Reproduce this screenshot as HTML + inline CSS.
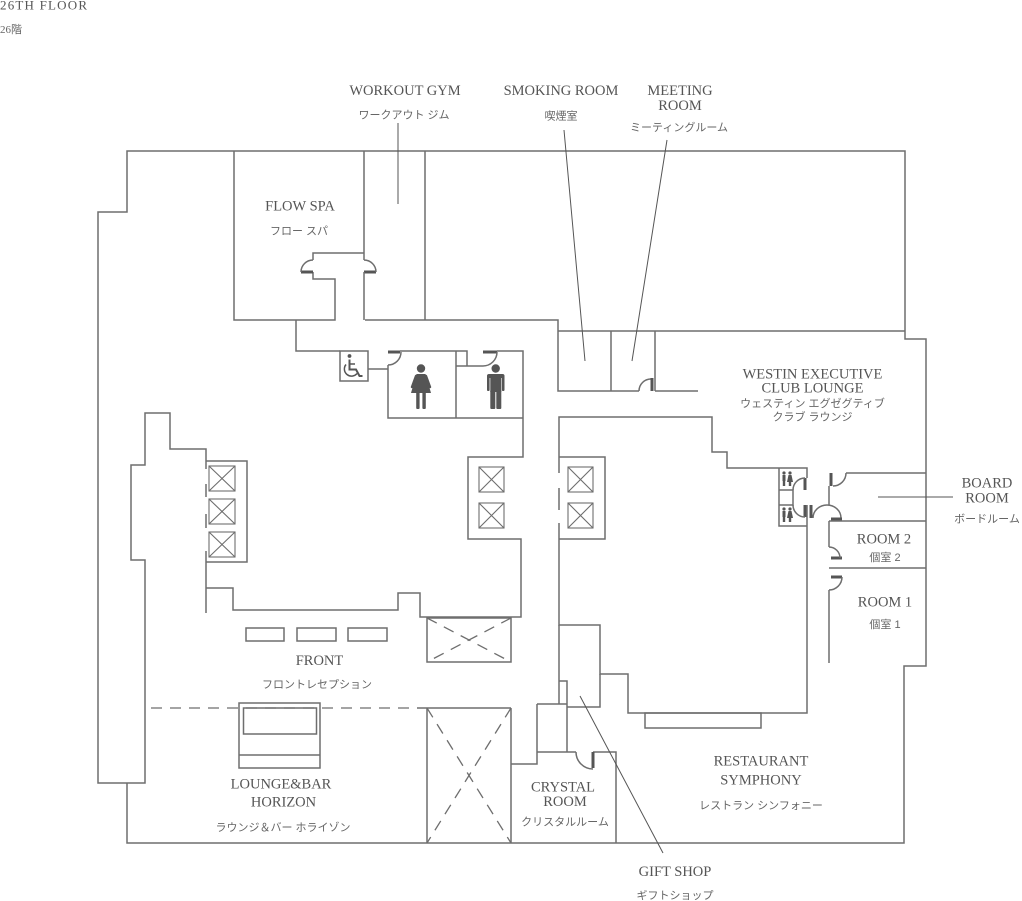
<!DOCTYPE html>
<html><head><meta charset="utf-8">
<style>
html,body{margin:0;padding:0;background:#fff;}
svg{display:block;}
.w{fill:none;stroke:#6e6e6e;stroke-width:1.5;}
.t{fill:none;stroke:#555;stroke-width:3;}
.l{fill:none;stroke:#555;stroke-width:1;}
.d{fill:none;stroke:#6e6e6e;stroke-width:1.3;stroke-dasharray:11 8;}
.x{fill:none;stroke:#6e6e6e;stroke-width:1.1;}
.s{font-family:"Liberation Serif",serif;font-size:14.5px;fill:#555;text-anchor:middle;}
.j{font-family:"Liberation Sans","Noto Sans CJK JP",sans-serif;font-size:11px;fill:#666;text-anchor:middle;}
.ic{fill:#555;}
</style></head><body>
<svg width="1022" height="901" viewBox="0 0 1022 901">
<!-- outer wall -->
<path class="w" d="M127,783 V843 H904 V666 H926 V339 H905 V151 H127 V212 H98 V783 H145 V560 H131 V465 H145 V413 H170 V449 H206 V461"/>
<!-- left elevator bank -->
<path class="w" d="M206,461 H247 V562 H206"/>
<path class="w" d="M206,461 V469 M206,484 V497 M206,514 V528 M206,551 V613"/>
<path class="w" d="M206,588 H233 V610 H398 V593 H420 V617 H521 V539 H468 V457 H523 V351 H497"/>
<!-- restrooms -->
<path class="t" d="M483,352 H497"/>
<path class="w" d="M497,352 A14,14 0 0 1 483,366"/>
<path class="w" d="M483,366 H456 M467,366 V351 H400"/>
<path class="t" d="M388,352 H400"/>
<path class="w" d="M401,352 A13,13 0 0 1 388,365"/>
<path class="w" d="M388,365 V418 H523 M456,351 V418"/>
<path class="w" d="M368,369 H388"/>
<rect class="w" x="340" y="351" width="28" height="30"/>
<path class="w" d="M296,320 V351 H340"/>
<!-- corridor top / smoking / meeting -->
<path class="w" d="M365,320 H558 V391 H639 M655,391 H698 M611,331 V391 M655,331 V391 M558,331 H905"/>
<path class="w" d="M639,391 A12,12 0 0 1 651,379"/>
<path class="t" d="M652,378 V391"/>
<!-- spa / gym -->
<path class="w" d="M234,151 V320 H335 V279 H313 V272"/>
<path class="t" d="M301,272 H313 M364,272 H376"/>
<path class="w" d="M301,272 A12,12 0 0 1 313,260 M313,260 V253 H364 M364,151 V260 M364,260 A12,12 0 0 1 376,272 M364,272 V320 M425,151 V320"/>
<!-- club inner block -->
<path class="w" d="M559,457 V417 H712 V452 H727 V468 H807 V478 M779,468 V526 H807"/>
<path class="t" d="M805,478 V490 M805,505 V517 M811,505 V518"/>
<path class="w" d="M807,505 V713 H628 V674 H600 V625 H559 V539"/>
<path class="w" d="M779,490 H793 V505 H779"/>
<path class="w" d="M793,490 A12,12 0 0 1 805,478 M793,505 A12,12 0 0 0 805,517"/>
<!-- corridor door -->
<path class="w" d="M813,518 A14,13 0 0 1 841,518"/>
<path class="t" d="M831,519 H842"/>
<!-- right rooms -->
<path class="t" d="M831,473 V486 M831,558 H842 M831,577 H842"/>
<path class="w" d="M833,486 A13,13 0 0 0 846,473 M846,473 H926"/>
<path class="w" d="M829,486 V505 M829,521 H926 M829,521 V547 M829,568 H926"/>
<path class="w" d="M829,547 A11,11 0 0 1 840,558 M842,577 A13,13 0 0 1 829,590 M829,590 V663"/>
<path class="l" d="M878,497 H953"/>
<!-- right elevator bank -->
<path class="w" d="M559,457 H605 V539 H559"/>
<path class="w" d="M559,457 V473 M559,488 V510 M559,523 V539"/>
<!-- lower middle -->
<path class="w" d="M559,625 V704 M559,681 H567 V752 M567,707 H600 V674 M537,704 H567 M537,704 V764 H511 M417,708 H511 M511,708 V843"/>
<path class="w" d="M537,752 H576 M593,752 H616 V843"/>
<path class="t" d="M593,752 V768"/>
<path class="w" d="M576,752 A17,17 0 0 0 593,769"/>
<!-- X boxes -->
<path class="w" d="M427,708 V843"/>
<path class="d" d="M427,708 L511,843 M511,708 L427,843"/>
<rect class="w" x="427" y="618" width="84" height="44"/>
<path class="d" d="M427,618 L511,662 M511,618 L427,662"/>
<!-- bar -->
<rect class="w" x="645" y="713" width="116" height="15"/>
<!-- dashed lounge boundary -->
<path class="d" d="M151,708 H417"/>
<!-- lounge furniture -->
<rect class="w" x="239" y="703" width="81" height="65"/>
<rect class="w" x="243.5" y="708" width="73" height="26"/>
<path class="w" d="M239,755 H320"/>
<!-- front counters -->
<rect class="w" x="246" y="628" width="38" height="13"/>
<rect class="w" x="297" y="628" width="39" height="13"/>
<rect class="w" x="348" y="628" width="39" height="13"/>
<!-- elevators -->
<g class="x">
<rect x="209" y="466" width="26" height="25"/><path d="M209,466 L235,491 M235,466 L209,491"/>
<rect x="209" y="499" width="26" height="25"/><path d="M209,499 L235,524 M235,499 L209,524"/>
<rect x="209" y="532" width="26" height="25"/><path d="M209,532 L235,557 M235,532 L209,557"/>
<rect x="479" y="467" width="25" height="25"/><path d="M479,467 L504,492 M504,467 L479,492"/>
<rect x="479" y="503" width="25" height="25"/><path d="M479,503 L504,528 M504,503 L479,528"/>
<rect x="568" y="467" width="25" height="25"/><path d="M568,467 L593,492 M593,467 L568,492"/>
<rect x="568" y="503" width="25" height="25"/><path d="M568,503 L593,528 M593,503 L568,528"/>
</g>
<!-- leaders -->
<path class="l" d="M398,123 V204 M564,130 L585,361 M667,140 L632,361 M580,696 L663,853"/>
<!-- wheelchair icon -->
<circle class="ic" cx="349.5" cy="356" r="1.9"/>
<path fill="none" stroke="#555" stroke-width="2" d="M349.5,359.5 V369.5 H356 L359.5,376 H362.5"/>
<path fill="none" stroke="#555" stroke-width="1.5" d="M349.5,364 H355 M346,364.5 A6.3,6.3 0 1 0 357,373.5"/>
<!-- women icon -->
<circle class="ic" cx="421" cy="368.5" r="4.2"/>
<path class="ic" d="M416.5,374 H425.5 L431,393 H411 Z"/>
<path fill="none" stroke="#555" stroke-width="2.4" stroke-linecap="round" d="M416,376 L412,387 M426,376 L430,387"/>
<rect class="ic" x="416.2" y="392" width="3.4" height="17" rx="1"/>
<rect class="ic" x="422.4" y="392" width="3.4" height="17" rx="1"/>
<!-- men icon -->
<circle class="ic" cx="495.7" cy="368.5" r="4.2"/>
<rect class="ic" x="487" y="374" width="17.5" height="4" rx="2"/>
<rect class="ic" x="487" y="375" width="2.6" height="16" rx="1.3"/>
<rect class="ic" x="501.9" y="375" width="2.6" height="16" rx="1.3"/>
<rect class="ic" x="490.3" y="374" width="11" height="18"/>
<rect class="ic" x="490.3" y="390" width="5" height="19" rx="1"/>
<rect class="ic" x="496.3" y="390" width="5" height="19" rx="1"/>
<!-- club mini restroom icons -->
<g class="ic">
<circle cx="784" cy="473" r="1.6"/><rect x="782.5" y="475" width="3" height="6"/><rect x="782.8" y="480" width="2.4" height="6"/>
<circle cx="790" cy="473" r="1.6"/><path d="M788.5,475 H791.5 L793,482 H787 Z"/><rect x="788.8" y="481" width="2.4" height="5"/>
<circle cx="784" cy="509" r="1.6"/><rect x="782.5" y="511" width="3" height="6"/><rect x="782.8" y="516" width="2.4" height="6"/>
<circle cx="790" cy="509" r="1.6"/><path d="M788.5,511 H791.5 L793,518 H787 Z"/><rect x="788.8" y="517" width="2.4" height="5"/>
</g>
<!-- text -->
<text x="0" y="9.5" style="font-family:'Liberation Serif',serif;font-size:13px;fill:#555;letter-spacing:1.2px;">26TH FLOOR</text>
<text x="0" y="33" style="font-family:'Liberation Serif','Noto Sans CJK JP',serif;font-size:11px;fill:#666;">26階</text>

<text class="s" x="405" y="95">WORKOUT GYM</text>
<text class="j" x="404" y="118.5">ワークアウト ジム</text>
<text class="s" x="561" y="95">SMOKING ROOM</text>
<text class="j" x="561" y="119.5">喫煙室</text>
<text class="s" x="680" y="95">MEETING</text>
<text class="s" x="680" y="110">ROOM</text>
<text class="j" x="679" y="131">ミーティングルーム</text>

<text class="s" x="300" y="210.5">FLOW SPA</text>
<text class="j" x="299" y="234.5">フロー スパ</text>

<text class="s" x="812.5" y="378.3">WESTIN EXECUTIVE</text>
<text class="s" x="812.5" y="392.7">CLUB LOUNGE</text>
<text class="j" x="812.5" y="407">ウェスティン エグゼグティブ</text>
<text class="j" x="812.5" y="420.5">クラブ ラウンジ</text>

<text class="s" x="987" y="487.7">BOARD</text>
<text class="s" x="987" y="502.3">ROOM</text>
<text class="j" x="987" y="522.7">ボードルーム</text>

<text class="s" x="884" y="543.3">ROOM 2</text>
<text class="j" x="885" y="561">個室 2</text>
<text class="s" x="885" y="606.7">ROOM 1</text>
<text class="j" x="885" y="628">個室 1</text>

<text class="s" x="319.5" y="665">FRONT</text>
<text class="j" x="317" y="688">フロントレセプション</text>

<text class="s" x="281" y="788.3">LOUNGE&amp;BAR</text>
<text class="s" x="283.5" y="806.7">HORIZON</text>
<text class="j" x="283" y="831">ラウンジ＆バー ホライゾン</text>

<text class="s" x="563" y="791.7">CRYSTAL</text>
<text class="s" x="565" y="806">ROOM</text>
<text class="j" x="565" y="825.5">クリスタルルーム</text>

<text class="s" x="761" y="765.7">RESTAURANT</text>
<text class="s" x="761" y="784.3">SYMPHONY</text>
<text class="j" x="761" y="809">レストラン シンフォニー</text>

<text class="s" x="675" y="876">GIFT SHOP</text>
<text class="j" x="675" y="899">ギフトショップ</text>
</svg>
</body></html>
